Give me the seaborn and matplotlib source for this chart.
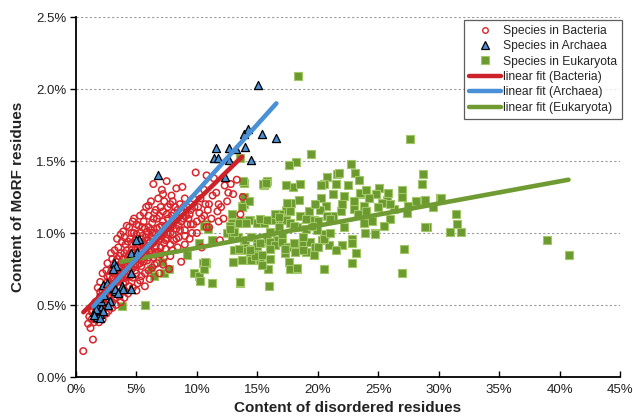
import matplotlib
matplotlib.use("Agg")
import matplotlib.pyplot as plt
import seaborn as sns
import pandas as pd
from matplotlib.lines import Line2D
from matplotlib.ticker import FuncFormatter

# ---------------- data (percent) ----------------
bacteria_pts = [
    (0.6,0.18),(1.4,0.26),(1.2,0.34),(1.0,0.37),(1.3,0.40),(1.5,0.38),(1.1,0.42),(1.6,0.44),(1.8,0.41),(1.4,0.46),
    (1.9,0.47),(2.0,0.43),(1.7,0.50),(2.2,0.45),(2.1,0.52),(2.4,0.48),(2.3,0.55),(2.6,0.50),(2.5,0.58),(2.8,0.53),
    (2.7,0.60),(3.0,0.48),(2.9,0.57),(3.1,0.62),(3.2,0.55),(3.3,0.66),(3.4,0.59),(3.5,0.70),(3.6,0.63),(3.7,0.52),
    (3.8,0.68),(3.9,0.74),(4.0,0.60),(4.1,0.66),(4.2,0.78),(4.3,0.71),(4.4,0.63),(4.5,0.82),(4.6,0.75),(4.7,0.69),
    (4.8,0.86),(4.9,0.79),(5.0,0.60),(5.0,0.72),(5.1,0.90),(5.2,0.83),(5.3,0.67),(5.4,0.77),(5.5,0.93),(5.6,0.86),
    (5.7,0.63),(5.7,0.72),(5.8,0.97),(5.9,0.81),(6.0,0.89),(6.1,0.68),(6.2,1.02),(6.3,0.76),(6.4,0.93),(6.5,0.85),
    (6.6,1.16),(6.7,0.79),(6.8,0.98),(6.9,0.72),(7.0,0.90),(7.1,1.05),(7.2,1.27),(7.3,0.83),(7.4,0.95),(7.5,1.36),
    (7.6,1.10),(7.7,0.75),(7.8,1.00),(7.9,1.26),(8.0,0.88),(8.1,1.14),(8.3,1.31),(8.3,0.96),(8.5,1.05),(8.6,1.20),
    (8.7,0.80),(8.8,1.32),(8.9,1.10),(9.0,0.92),(9.2,1.18),(9.4,0.96),(9.5,1.06),(9.7,1.24),(9.9,1.42),(10.0,1.00),
    (10.2,1.14),(10.4,0.90),(10.6,1.30),(10.8,1.40),(10.8,1.04),(11.0,1.20),(11.2,1.10),(11.4,1.38),(11.6,1.28),(11.8,1.20),
    (11.9,0.95),(12.0,1.18),(12.3,1.33),(12.8,1.34),(13.0,1.27),(13.3,1.37),(13.6,1.13),(13.8,1.25),(12.5,1.22),(6.4,1.34),
    (1.5,0.49),(1.7,0.46),(1.8,0.53),(2.0,0.56),(2.1,0.49),(2.2,0.60),(2.3,0.51),(2.4,0.63),(2.5,0.54),(2.6,0.66),
    (2.7,0.57),(2.8,0.70),(2.9,0.62),(3.0,0.68),(3.0,0.75),(3.1,0.58),(3.2,0.72),(3.3,0.80),(3.4,0.67),(3.5,0.76),
    (3.5,0.62),(3.6,0.84),(3.7,0.71),(3.8,0.79),(3.9,0.65),(4.0,0.86),(4.0,0.73),(4.1,0.92),(4.2,0.69),(4.3,0.83),
    (4.4,0.76),(4.5,0.96),(4.5,0.70),(4.6,0.88),(4.7,0.80),(4.8,1.00),(4.9,0.74),(5.0,0.93),(5.0,0.85),(5.1,0.78),
    (5.2,1.05),(5.3,0.88),(5.4,0.96),(5.5,0.82),(5.6,1.08),(5.7,0.90),(5.8,0.84),(5.9,1.01),(6.0,0.95),(6.0,1.12),
    (6.1,0.87),(6.2,0.97),(6.3,1.07),(6.4,0.83),(6.5,1.00),(6.6,0.91),(6.7,1.10),(6.8,0.87),(6.9,1.04),(7.0,1.18),
    (7.0,0.96),(7.2,1.08),(7.3,1.00),(7.4,0.89),(7.5,1.13),(7.6,0.99),(7.8,1.20),(7.9,1.06),(8.0,0.99),(8.2,1.09),
    (8.4,1.16),(8.6,1.02),(8.8,1.14),(9.0,1.24),(9.2,1.06),(9.4,1.13),(9.6,1.00),(9.8,1.18),(10.0,1.08),(10.3,1.24),
    (10.6,1.12),(11.0,1.04),(11.3,1.26),(11.7,1.15),(12.2,1.10),(12.6,1.28),
    (2.0,0.66),(2.5,0.74),(3.0,0.82),(3.5,0.90),(4.0,0.97),(4.4,1.04),(4.8,1.10),(5.3,1.12),(5.8,1.18),(6.2,1.22),
    (3.2,0.88),(3.8,0.94),(4.6,1.00),(5.5,1.04),(6.5,1.14),(7.1,1.30),(8.0,1.22),(9.1,1.12),(10.9,1.16),(11.8,1.08),
    (1.6,0.52),(1.9,0.50),(2.0,0.59),(2.2,0.54),(2.3,0.62),(2.4,0.57),(2.6,0.60),(2.6,0.70),(2.8,0.63),(2.9,0.73),
    (3.0,0.60),(3.1,0.69),(3.2,0.64),(3.3,0.74),(3.4,0.82),(3.5,0.67),(3.6,0.77),(3.7,0.86),(3.8,0.72),(3.9,0.82),
    (4.0,0.78),(4.1,0.70),(4.2,0.88),(4.3,0.77),(4.3,0.94),(4.4,0.85),(4.5,0.78),(4.6,0.93),(4.7,0.86),(4.8,0.77),
    (4.9,0.95),(4.9,0.88),(5.0,0.99),(5.1,0.84),(5.2,0.92),(5.3,0.79),(5.3,1.00),(5.4,0.88),(5.5,0.98),(5.6,0.80),
    (5.6,0.93),(5.7,1.03),(5.8,0.90),(5.9,0.95),(6.0,0.83),(6.0,1.04),(6.1,0.93),(6.2,0.88),(6.3,1.00),(6.4,1.10),
    (6.5,0.94),(6.6,0.86),(6.7,1.03),(6.8,0.95),(6.9,1.12),(7.0,0.85),(7.1,0.98),(7.2,1.15),(7.3,0.93),(7.4,1.05),
    (7.5,0.96),(7.6,1.18),(7.7,1.04),(7.8,0.92),(7.9,1.12),(8.0,1.05),(8.1,0.95),(8.2,1.18),(8.3,1.03),(8.4,1.10),
    (8.5,0.97),(8.7,1.08),(8.9,1.18),(9.0,1.02),(9.3,1.10),(9.5,1.16),(9.7,1.06),(10.1,1.18),(10.4,1.10),(10.7,1.20),
    (1.3,0.45),(1.6,0.40),(1.9,0.38),(2.2,0.40),(2.5,0.44),(2.7,0.46),(3.0,0.52),(3.3,0.50),(3.6,0.56),(4.0,0.55),
    (4.3,0.58),(4.7,0.62),(5.1,0.65),(5.4,0.70),(6.0,0.74),(6.5,0.78),(7.2,0.78),(7.8,0.84),(8.4,0.90),(9.0,0.98),
    (3.4,0.96),(3.9,1.01),(4.2,1.05),(5.0,1.06),(5.6,1.14),(6.0,1.19),(6.8,1.24),(7.3,1.22),(4.7,1.08),(2.6,0.79),
    (2.2,0.72),(1.8,0.62),(2.9,0.86),(3.7,0.99),
]

archaea_pts = [
    (15.05,2.03),(11.57,1.59),(12.68,1.59),(11.38,1.52),(11.74,1.52),(12.68,1.51),(13.26,1.58),(14.0,1.60),
    (13.86,1.69),(14.22,1.72),(15.41,1.69),(16.54,1.66),(14.44,1.51),(12.34,1.39),(6.77,1.40),(5.25,0.96),
    (4.97,0.95),(4.52,0.86),(5.05,0.87),(3.15,0.79),(3.31,0.77),(3.10,0.75),(4.56,0.72),(2.27,0.64),
    (2.55,0.62),(3.78,0.63),(3.85,0.61),(3.23,0.60),(4.56,0.61),(1.99,0.53),(1.71,0.49),(2.10,0.48),
    (1.52,0.45),(1.71,0.42),(1.95,0.44),(2.25,0.46),(2.82,0.53),(2.65,0.50),(2.54,0.65),(3.26,0.61),
    (2.07,0.53),(1.80,0.55),(2.30,0.57),(1.66,0.47),(1.52,0.43),(2.0,0.41),(3.5,0.58),
]

eukaryota_pts = [
    (3.81,0.49),(5.74,0.50),(6.19,0.75),(6.49,0.70),(7.13,0.80),(7.32,0.72),(7.68,0.75),(9.17,0.85),(9.72,0.72),
    (10.2,0.70),(10.27,0.67),(10.52,0.79),(10.2,0.93),(10.74,1.06),(10.74,0.79),(11.24,0.65),(11.24,0.95),
    (12.95,0.80),(13.59,0.65),(12.9,1.13),(13.73,1.19),(14.1,1.22),(12.48,1.0),(12.9,0.97),(13.73,0.88),
    (14.56,0.81),(14.7,0.86),(18.39,2.09),(27.67,1.65),(19.47,1.55),(17.65,1.47),(18.2,1.49),(22.78,1.48),
    (23.1,1.42),(23.39,1.37),(20.77,1.39),(21.6,1.41),(21.54,1.34),(20.49,1.34),(17.92,1.32),(18.5,1.34),
    (15.52,1.33),(15.8,1.36),(13.86,1.35),(22.15,1.26),(23.53,1.27),(25.1,1.31),(24.83,1.27),(25.74,1.23),
    (26.93,1.30),(28.7,1.41),(28.64,1.34),(29.05,1.04),(28.14,1.21),(27.12,0.89),(26.98,0.72),(22.84,0.79),
    (23.17,0.86),(20.49,0.75),(17.79,1.21),(18.48,1.23),(19.25,1.15),(20.3,1.24),(20.69,1.19),(17.4,1.16),
    (16.07,0.82),(15.85,0.75),(15.99,0.63),(13.59,0.66),(10.55,0.75),(17.59,0.80),(17.73,0.75),(18.28,0.75),
    (15.24,0.81),(14.5,0.81),(13.86,0.93),(13.03,0.88),(14.6,0.89),(15.93,0.94),(16.63,0.95),(17.26,0.86),
    (19.03,0.87),(19.66,0.86),(20.35,0.95),(20.9,0.92),(22.15,1.04),(22.84,0.96),(23.94,1.0),(24.77,1.0),
    (12.9,1.07),(13.59,1.07),(14.42,1.09),(14.97,1.07),(15.52,1.07),(16.49,1.09),(16.84,1.13),(13.86,1.25),
    (13.92,1.20),(14.3,1.22),(13.7,1.18),(13.4,0.97),(15.47,1.34),(21.73,1.42),(20.3,1.33),(23.47,1.28),
    (25.3,1.21),(28.09,1.22),(28.91,1.23),(30.07,1.24),(31.4,1.13),(31.5,1.06),(30.93,1.01),(31.87,1.01),
    (28.91,1.04),(27.4,1.14),(26.29,1.17),(23.86,1.19),(22.97,1.17),(21.93,1.15),(21.3,1.12),(23.8,1.07),
    (24.77,0.99),(22.84,0.93),(38.94,0.95),(40.74,0.85),(30.16,1.24),(13.53,1.08),(14.28,1.09),(15.2,1.10),
    (16.2,1.09),(16.5,1.13),(17.0,1.10),(17.4,1.09),(17.73,1.15),(18.5,1.12),(19.7,1.09),(20.22,1.16),
    (20.8,1.12),(17.73,1.07),(16.8,1.04),(18.28,1.04),(19.0,1.03),(19.94,1.02),(20.6,0.99),(10.55,1.05),
    (10.9,1.03),(12.76,1.05),(13.1,1.01),(15.8,0.96),(14.0,0.95),(14.5,0.97),(14.97,0.93),(16.07,0.94),
    (16.5,0.92),(17.04,0.94),(17.5,0.90),(18.0,0.93),(18.8,0.93),(19.39,0.94),(19.8,0.90),(20.5,0.96),
    (13.45,0.89),(14.42,0.87),(14.8,0.84),(15.4,0.85),(16.07,0.89),(17.3,0.89),(18.15,0.87),(18.8,0.88),
    (19.66,0.85),(13.73,0.81),(15.39,0.78),(18.3,0.76),(10.69,0.80),(13.6,1.52),(13.81,1.36),(15.7,1.35),
    (17.59,1.47),(17.4,1.33),(17.45,1.21),(12.76,1.03),(13.45,1.07),(14.1,1.07),(15.8,1.09),(16.76,1.11),
    (16.07,1.01),(17.0,0.99),(14.97,0.91),(14.4,0.88),(15.2,0.93),(18.0,1.05),(24.0,1.15),(25.0,1.18),
    (26.0,1.10),(24.5,1.08),(21.0,1.10),(22.0,1.20),(23.0,1.22),(20.0,1.08),(21.0,1.00),(19.5,1.05),
    (18.8,0.97),(22.0,0.92),(21.5,0.88),(20.0,0.90),(19.0,1.10),(25.5,1.05),(26.0,1.20),(27.0,1.25),
    (24.0,1.30),(22.5,1.33),(29.5,1.18),(24.2,1.24),(21.3,1.27),(19.8,1.20),(23.3,1.13),(25.8,1.28),(27.5,1.19),
]

# linear fit endpoints
fit_bacteria_x = [0.61, 13.73]
fit_bacteria_y = [0.45, 1.53]
fit_archaea_x = [1.44, 16.57]
fit_archaea_y = [0.49, 1.90]
fit_eukaryota_x = [3.73, 40.74]
fit_eukaryota_y = [0.80, 1.37]

series_labels = ["Species in Bacteria", "Species in Archaea", "Species in Eukaryota",
                 "linear fit (Bacteria)", "linear fit (Archaea)", "linear fit (Eukaryota)"]
x_ticks = [0, 5, 10, 15, 20, 25, 30, 35, 40, 45]
y_ticks = [0.0, 0.5, 1.0, 1.5, 2.0, 2.5]
x_label = "Content of disordered residues"
y_label = "Content of MoRF residues"

# ---------------- styling ----------------
sns.set_theme(style="white")
plt.rcParams["font.family"] = ["Liberation Sans", "DejaVu Sans"]

RED = "#d8262c"
BLUE = "#4a90d6"
GREEN = "#6b9a2f"
GREEN_EDGE = "#a2c766"
RED_LINE = "#cc2229"
GREEN_LINE = "#6f9b32"

fig = plt.figure(figsize=(6.33, 4.20), dpi=100)
ax = fig.add_axes([76/633, 43/420, (620-76)/633, (377-17)/420])

df_b = pd.DataFrame(bacteria_pts, columns=["x", "y"])
df_a = pd.DataFrame(archaea_pts, columns=["x", "y"])
df_e = pd.DataFrame(eukaryota_pts, columns=["x", "y"])

sns.scatterplot(data=df_e, x="x", y="y", ax=ax, marker="s", s=30, color=GREEN,
                edgecolor=GREEN_EDGE, linewidth=0.8, zorder=2, legend=False)
sns.scatterplot(data=df_b, x="x", y="y", ax=ax, marker="o", s=22, facecolor="none",
                edgecolor=RED, linewidth=1.1, zorder=3, legend=False)
sns.scatterplot(data=df_a, x="x", y="y", ax=ax, marker="^", s=34, color=BLUE,
                edgecolor="black", linewidth=0.9, zorder=4, legend=False)

sns.lineplot(x=fit_eukaryota_x, y=fit_eukaryota_y, ax=ax, color=GREEN_LINE, lw=3.3,
             zorder=5, legend=False, solid_capstyle="round")
sns.lineplot(x=fit_bacteria_x, y=fit_bacteria_y, ax=ax, color=RED_LINE, lw=3.3,
             zorder=6, legend=False, solid_capstyle="round")
sns.lineplot(x=fit_archaea_x, y=fit_archaea_y, ax=ax, color=BLUE, lw=3.3,
             zorder=7, legend=False, solid_capstyle="round")

ax.set_xlim(0, 45)
ax.set_ylim(0, 2.5)
ax.set_xticks(x_ticks)
ax.set_yticks(y_ticks)
ax.xaxis.set_major_formatter(FuncFormatter(lambda v, p: f"{v:.0f}%"))
ax.yaxis.set_major_formatter(FuncFormatter(lambda v, p: f"{v:.1f}%"))
ax.tick_params(axis="x", direction="in", length=4, width=1, color="black",
               labelsize=9.5, pad=5, labelcolor="#222222")
ax.tick_params(axis="y", direction="out", length=4, width=1, color="black",
               labelsize=9.5, pad=3, labelcolor="#222222")
ax.tick_params(bottom=True, left=True)

for yv in y_ticks[1:]:
    ax.axhline(yv, color="#9a9a9a", lw=0.8, ls=(0, (2, 2)), zorder=0)

for s in ["top", "right"]:
    ax.spines[s].set_visible(False)
for s in ["left", "bottom"]:
    ax.spines[s].set_color("black")
    ax.spines[s].set_linewidth(1.3)

ax.set_xlabel(x_label, fontsize=11, fontweight="bold", labelpad=4, color="#222222")
ax.set_ylabel(y_label, fontsize=11, fontweight="bold", labelpad=8, color="#222222")

handles = [
    Line2D([], [], ls="none", marker="o", ms=4, mfc="none", mec=RED, mew=1.0),
    Line2D([], [], ls="none", marker="^", ms=6, mfc=BLUE, mec="black", mew=0.9),
    Line2D([], [], ls="none", marker="s", ms=6, mfc=GREEN, mec=GREEN_EDGE, mew=0.8),
    Line2D([], [], color=RED_LINE, lw=3.2),
    Line2D([], [], color=BLUE, lw=3.2),
    Line2D([], [], color=GREEN_LINE, lw=3.2),
]
leg = ax.legend(handles, series_labels, loc="upper right",
                bbox_to_anchor=(622/633, 1 - 20/420), bbox_transform=fig.transFigure,
                borderaxespad=0, fontsize=8.7, frameon=True, fancybox=False,
                edgecolor="#333333", handlelength=2.7, handletextpad=0.15,
                labelspacing=0.28, borderpad=0.4)
leg.get_frame().set_linewidth(0.9)

fig.savefig("out.png", dpi=100)
